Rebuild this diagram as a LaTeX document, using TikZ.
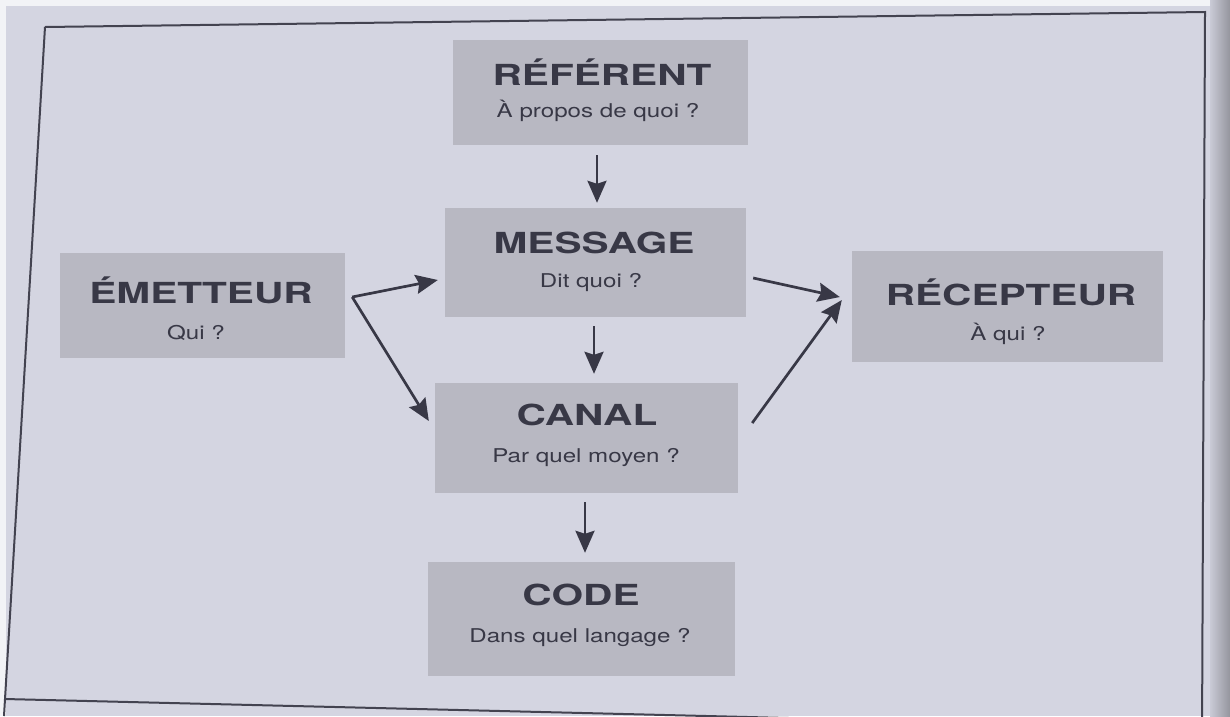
\documentclass[tikz,border=0pt]{standalone}
\usepackage{fontspec}
\setmainfont{TeX Gyre Heros}
\newfontfamily\wideTitle[FakeStretch=1.4]{TeX Gyre Heros}
\newfontfamily\wideSub[FakeStretch=1.27]{TeX Gyre Heros}
\usetikzlibrary{arrows.meta,calc}
\definecolor{pagebg}{HTML}{D4D5E1}
\definecolor{boxfill}{HTML}{B8B8C2}
\definecolor{ink}{HTML}{383846}
\definecolor{frameink}{HTML}{434350}
\tikzset{
  box/.style={rectangle, fill=boxfill, draw=none, inner sep=0pt},
  title/.style={anchor=base, inner sep=0pt, text=ink, font=\wideTitle\bfseries\fontsize{29}{32}\selectfont},
  sub/.style={anchor=base, inner sep=0pt, text=ink, font=\wideSub\fontsize{19}{22}\selectfont},
  arr/.style={draw=ink, line width=2.7pt, -{Stealth[length=22pt,width=19pt,inset=3pt]}},
}
\begin{document}
\begin{tikzpicture}[x=1pt,y=-1pt]
\useasboundingbox (0,0) rectangle (1230,716);
% page background
\fill[pagebg] (0,0) rectangle (1230,716);
\fill[white!70!pagebg] (0,0) rectangle (1230,6);
\fill[white!70!pagebg] (0,0) rectangle (6,716);
\shade[left color=pagebg!95!black, right color=pagebg!70!black] (1210,0) rectangle (1230,716);
% frame
\begin{scope}
\clip (0,0) rectangle (1230,716);
\draw[frameink, line width=2pt] (45,27) -- (1205,12) -- (1202,740) ;
\draw[frameink, line width=2pt] (45,27) -- (4,716);
\draw[frameink, line width=2pt] (5,699) -- (1202,728);
\end{scope}
% boxes
\node[box, minimum width=295pt, minimum height=105pt] (ref) at (600.5,92.5) {};
\node[box, minimum width=301pt, minimum height=109pt] (msg) at (595.5,262.5) {};
\node[box, minimum width=285pt, minimum height=105pt] (em) at (202.5,305.5) {};
\node[box, minimum width=311pt, minimum height=111pt] (rec) at (1007.5,306.5) {};
\node[box, minimum width=303pt, minimum height=110pt] (can) at (586.5,438) {};
\node[box, minimum width=307pt, minimum height=114pt] (code) at (581.5,619) {};
% texts
\node[title] (refT) at (602,85) {RÉFÉRENT};
\node[sub] (refS) at (598,117) {À propos de quoi ?};
\node[title] (msgT) at (594,253) {MESSAGE};
\node[sub] (msgS) at (591,287) {Dit quoi ?};
\node[title] (emT) at (201,303) {ÉMETTEUR};
\node[sub] (emS) at (196,339) {Qui ?};
\node[title] (recT) at (1011,305) {RÉCEPTEUR};
\node[sub] (recS) at (1008,340) {À qui ?};
\node[title] (canT) at (587,425) {CANAL};
\node[sub] (canS) at (586,462) {Par quel moyen ?};
\node[title] (codeT) at (581,605) {CODE};
\node[sub] (codeS) at (580,642) {Dans quel langage ?};
% arrows
\draw[arr] ($(ref.south)+(-3.5,10)$) -- ($(msg.north)+(1.5,-5)$);
\draw[arr] ($(msg.south)+(-1.5,9)$) -- ($(can.north)+(7.5,-9)$);
\draw[arr] ($(can.south)+(-1.5,9)$) -- ($(code.north)+(3.5,-9)$);
\coordinate (emout) at ($(em.east)+(7,-8.5)$);
\draw[arr] (emout) -- ($(msg.west)+(-7,17.5)$);
\draw[arr] (emout) -- ($(can.west)+(-6,-17)$);
\draw[arr] ($(msg.east)+(7,15.5)$) -- ($(rec.west)+(-12,-9.5)$);
\draw[arr] ($(can.east)+(14,-15)$) -- ($(rec.west)+(-10,-6.5)$);
\end{tikzpicture}
\end{document}
